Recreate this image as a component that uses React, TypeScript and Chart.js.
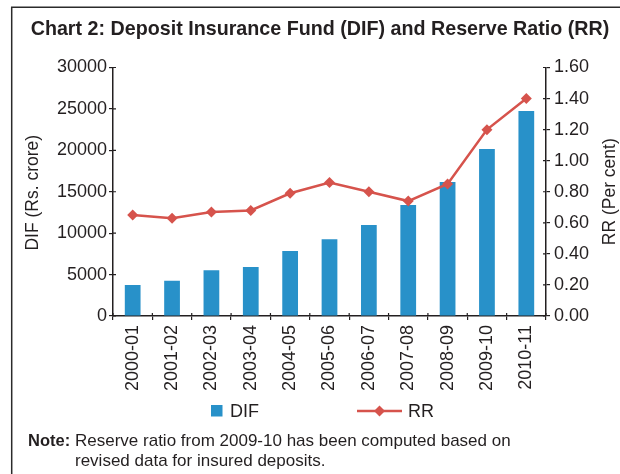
import React, { useEffect, useRef } from "react";
import { Chart, registerables } from "chart.js";

Chart.register(...registerables);

const categories = ["2000-01", "2001-02", "2002-03", "2003-04", "2004-05", "2005-06", "2006-07", "2007-08", "2008-09", "2009-10", "2010-11"];
const difValues = [3740, 4270, 5510, 5920, 7850, 9260, 10990, 13400, 16180, 20160, 24750];
const rrValues = [0.65, 0.63, 0.67, 0.68, 0.79, 0.86, 0.8, 0.74, 0.85, 1.2, 1.4];

const titleText = "Chart 2: Deposit Insurance Fund (DIF) and Reserve Ratio (RR)";
const leftAxisTitle = "DIF (Rs. crore)";
const rightAxisTitle = "RR (Per cent)";
const legendLabels = ["DIF", "RR"];
const noteLabel = "Note:";
const noteLines = ["Reserve ratio from 2009-10 has been computed based on", "revised data for insured deposits."];

const FONT = "'Liberation Sans', Arial, Helvetica, sans-serif";
const TEXT = "#231f20";
const BAR = "#2891c9";
const LINE = "#d6534c";
const AXIS = "#231f20";

const decor = {
  id: "decor",
  beforeDraw(chart: any) {
    const ctx = chart.ctx;
    ctx.save();
    ctx.fillStyle = "#ffffff";
    ctx.fillRect(0, 0, chart.width, chart.height);
    // frame
    ctx.strokeStyle = "#2b2b2b";
    ctx.lineWidth = 1.5;
    ctx.beginPath();
    ctx.moveTo(11.7, chart.height);
    ctx.lineTo(11.7, 7.3);
    ctx.lineTo(chart.width, 7.3);
    ctx.stroke();
    // title
    ctx.fillStyle = TEXT;
    ctx.font = `bold 19.7px ${FONT}`;
    ctx.textAlign = "center";
    ctx.textBaseline = "alphabetic";
    ctx.fillText(titleText, 320, 35);
    // axis titles
    const ca = chart.chartArea;
    const midY = (ca.top + ca.bottom) / 2;
    ctx.font = `17.5px ${FONT}`;
    ctx.textAlign = "center";
    ctx.textBaseline = "middle";
    ctx.save();
    ctx.translate(33, midY + 1);
    ctx.rotate(-Math.PI / 2);
    ctx.fillText(leftAxisTitle, 0, 0);
    ctx.restore();
    ctx.save();
    ctx.translate(610, midY);
    ctx.rotate(-Math.PI / 2);
    ctx.fillText(rightAxisTitle, 0, 0);
    ctx.restore();
    // legend
    ctx.fillStyle = BAR;
    ctx.fillRect(211, 405, 11.5, 11.5);
    ctx.fillStyle = TEXT;
    ctx.font = `18px ${FONT}`;
    ctx.textAlign = "left";
    ctx.textBaseline = "alphabetic";
    ctx.fillText(legendLabels[0], 230, 417.3);
    ctx.strokeStyle = LINE;
    ctx.lineWidth = 2.5;
    ctx.beginPath();
    ctx.moveTo(357, 411);
    ctx.lineTo(402, 411);
    ctx.stroke();
    ctx.fillStyle = LINE;
    ctx.beginPath();
    ctx.moveTo(379.5, 405.5);
    ctx.lineTo(385, 411);
    ctx.lineTo(379.5, 416.5);
    ctx.lineTo(374, 411);
    ctx.closePath();
    ctx.fill();
    ctx.fillStyle = TEXT;
    ctx.fillText(legendLabels[1], 408, 417.3);
    // note
    ctx.font = `bold 16.5px ${FONT}`;
    ctx.fillText(noteLabel, 28, 445.5);
    ctx.font = `17px ${FONT}`;
    ctx.fillText(noteLines[0], 75, 445.5);
    ctx.fillText(noteLines[1], 75, 465.5);
    ctx.restore();
  },
  afterDraw(chart: any) {
    const ctx = chart.ctx;
    const ca = chart.chartArea;
    ctx.save();
    ctx.strokeStyle = AXIS;
    ctx.lineWidth = 1.2;
    ctx.beginPath();
    const y = chart.scales.y;
    y.ticks.forEach((t: any) => {
      const p = y.getPixelForValue(t.value);
      ctx.moveTo(ca.left, p);
      ctx.lineTo(ca.left + 3, p);
    });
    const y1 = chart.scales.y1;
    y1.ticks.forEach((t: any) => {
      const p = y1.getPixelForValue(t.value);
      ctx.moveTo(ca.right - 3, p);
      ctx.lineTo(ca.right, p);
    });
    const x = chart.scales.x;
    const n = categories.length;
    for (let i = 0; i <= n; i++) {
      const p = x.getPixelForValue(i - 0.5);
      ctx.moveTo(p, ca.bottom);
      ctx.lineTo(p, ca.bottom - 3);
    }
    ctx.stroke();
    ctx.restore();
  },
};

export default function App() {
  const ref = useRef<HTMLCanvasElement | null>(null);
  useEffect(() => {
    if (!ref.current) return;
    Chart.defaults.font.family = FONT;
    Chart.defaults.color = TEXT;
    const chart = new Chart(ref.current, {
      type: "bar",
      data: {
        labels: categories,
        datasets: [
          {
            type: "line",
            label: legendLabels[1],
            data: rrValues,
            yAxisID: "y1",
            borderColor: LINE,
            backgroundColor: LINE,
            borderWidth: 2.5,
            pointStyle: "rectRot",
            pointRadius: 5.5,
            pointBackgroundColor: LINE,
            pointBorderColor: LINE,
            pointBorderWidth: 0,
            tension: 0,
            order: 0,
          } as any,
          {
            type: "bar",
            label: legendLabels[0],
            data: difValues,
            yAxisID: "y",
            backgroundColor: BAR,
            categoryPercentage: 1,
            barPercentage: 0.4,
            order: 1,
          },
        ],
      },
      options: {
        responsive: false,
        animation: false,
        layout: { padding: { top: 67.5, left: 0, right: 0, bottom: 0 } },
        plugins: { legend: { display: false }, tooltip: { enabled: false }, title: { display: false } },
        scales: {
          x: {
            offset: true,
            grid: { display: true, drawOnChartArea: false, drawTicks: true, tickLength: 4, offset: true, color: AXIS, lineWidth: 1.2 },
            border: { display: true, color: AXIS, width: 1.5 },
            ticks: { font: { size: 18 }, color: TEXT, minRotation: 90, maxRotation: 90, autoSkip: false, padding: 5 },
            afterFit: (s: any) => { s.height = 158; },
          },
          y: {
            position: "left",
            min: 0,
            max: 30000,
            grid: { display: true, drawOnChartArea: false, drawTicks: true, tickLength: 4, color: AXIS, lineWidth: 1.2 },
            border: { display: true, color: AXIS, width: 1.5 },
            ticks: { stepSize: 5000, font: { size: 18 }, color: TEXT, padding: 2, autoSkip: false, callback: (v: any) => String(v) },
            afterFit: (s: any) => { s.width = 113; },
          },
          y1: {
            position: "right",
            min: 0,
            max: 1.6,
            grid: { display: true, drawOnChartArea: false, drawTicks: true, tickLength: 4, color: AXIS, lineWidth: 1.2 },
            border: { display: true, color: AXIS, width: 1.5 },
            ticks: { stepSize: 0.2, font: { size: 18 }, color: TEXT, padding: 4, autoSkip: false, callback: (v: any) => Number(v).toFixed(2) },
            afterFit: (s: any) => { s.width = 74; },
          },
        },
      },
      plugins: [decor],
    });
    return () => chart.destroy();
  }, []);
  return (
    <div style={{ position: "absolute", left: 0, top: 0, width: 620, height: 474 }}>
      <canvas ref={ref} width={620} height={474} style={{ display: "block", width: 620, height: 474 }} />
    </div>
  );
}
